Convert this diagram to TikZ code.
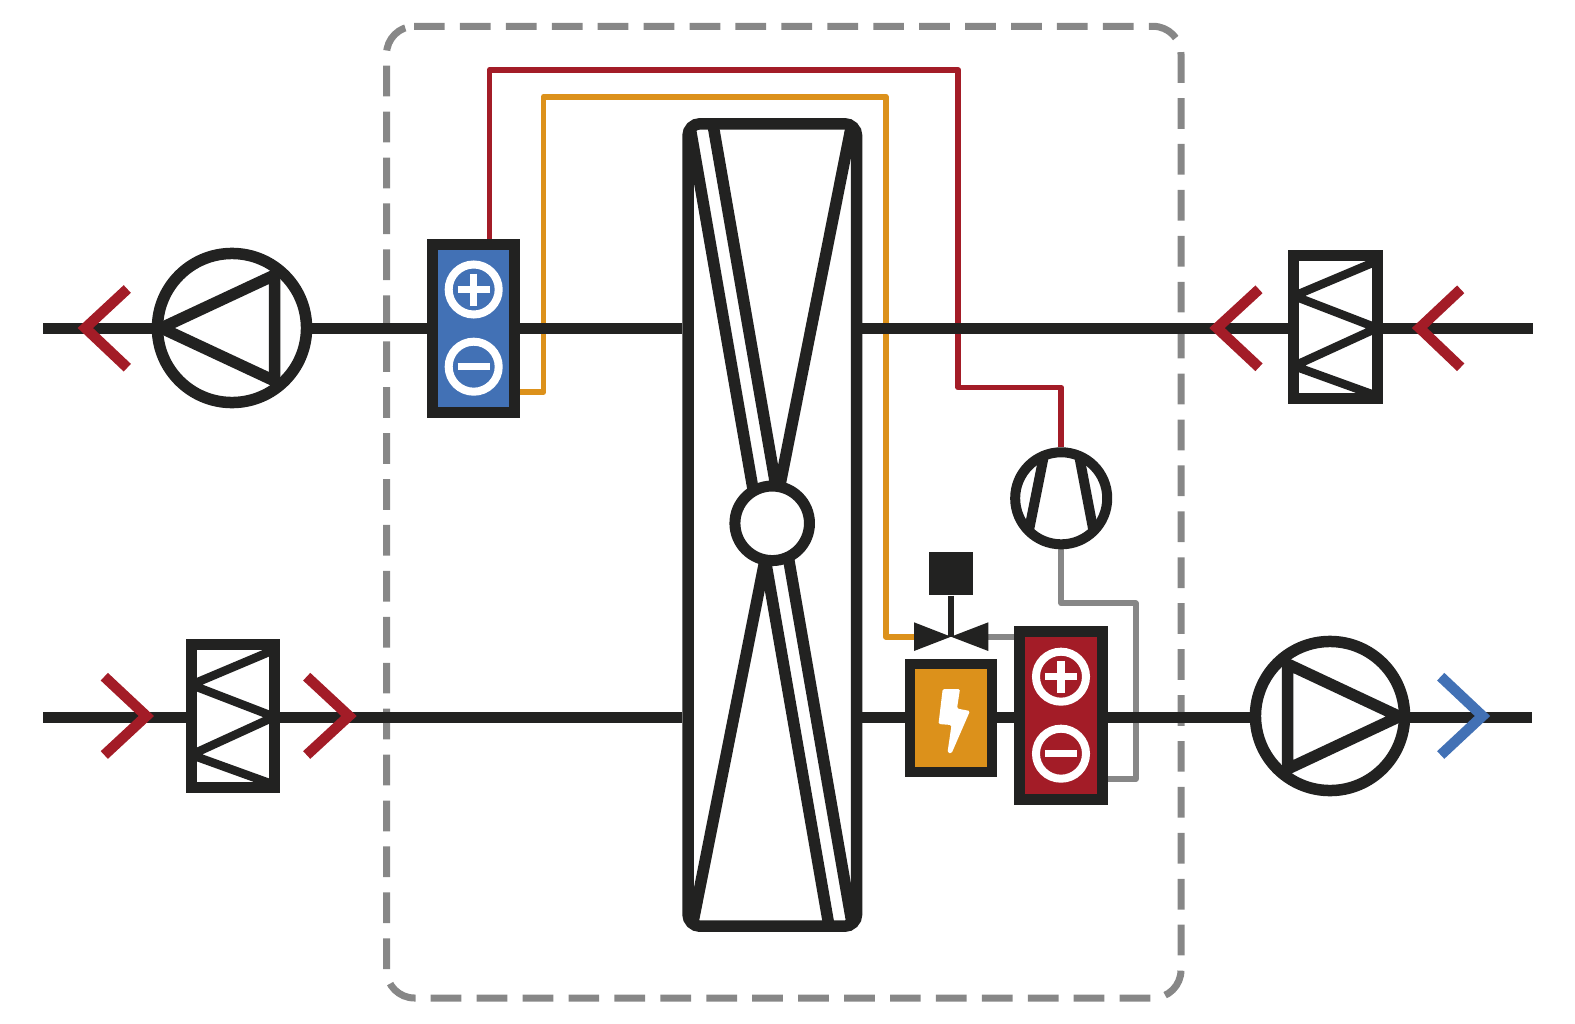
\documentclass[tikz,border=0pt]{standalone}
\usepackage{xcolor}
\usetikzlibrary{backgrounds}
\definecolor{plantBlack}{RGB}{34, 34, 33}
\definecolor{plantGray}{RGB}{135, 135, 135}
\definecolor{plantRed}{RGB}{163, 28, 39}
\definecolor{plantOrange}{RGB}{220, 145, 27}
\definecolor{plantBlue}{RGB}{66, 113, 181}
\tikzset{
  unitbox/.style={draw=plantBlack,line width=0.11cm,inner sep=0pt,minimum width=0.825cm,minimum height=1.68cm},
  damperbox/.style={draw=plantBlack,fill=white,line width=0.11cm,inner sep=0pt,minimum width=0.831cm,minimum height=1.425cm},
  pumpring/.style={draw=plantBlack,fill=white,circle,line width=0.115cm,inner sep=0pt,minimum size=1.49cm},
  signring/.style={draw=white,circle,line width=0.08cm,inner sep=0pt,minimum size=0.5cm},
  signbar/.style={white,line width=0.075cm},
  duct/.style={plantBlack,line width=0.115cm},
  blade/.style={plantBlack,line width=0.115cm},
  zigzag/.style={plantBlack,line width=0.085cm,line join=round},
  chevron/.style={line width=0.105cm,line join=miter},
  wire/.style={line width=0.058cm,line join=round}
}
\begin{document}
\begin{tikzpicture}[x=0.01cm,y=-0.01cm]
  \useasboundingbox (0,0) rectangle (1575,1024);

  % Duct ends
  \coordinate (topl) at (43,328.3);
  \coordinate (topr) at (1532.7,328.3);
  \coordinate (botl) at (43,717.3);
  \coordinate (botr) at (1531.7,717.3);

  % Wheel
  \node[draw=plantBlack,fill=white,line width=0.115cm,rounded corners=0.12cm,inner sep=0pt,minimum width=1.685cm,minimum height=8.02cm] (fan) at (772.3,525) {};
  \begin{scope}
    \clip[rounded corners=0.12cm] (687.5,123.5) rectangle (857,926.5);
    \draw[blade] (689.5,124) -- (829,926);
    \draw[blade] (712.9,124) -- (852.5,926);
    \draw[blade] (851.8,124) -- (692.2,926);
  \end{scope}
  \node[draw=plantBlack,fill=white,circle,line width=0.11cm,inner sep=0pt,minimum size=0.745cm] (hub) at (772.2,523.3) {};

  % Pumps
  \node[pumpring] (pumpl) at (232,328) {};
  \draw[plantBlack,line width=0.115cm,line join=miter] (161.3,328) -- (274.7,275) -- (274.7,381) -- cycle;
  \node[pumpring] (pumpr) at (1330,716) {};
  \draw[plantBlack,line width=0.115cm,line join=miter] (1399.3,716.5) -- (1287.5,664) -- (1287.5,769) -- cycle;

  % Dampers
  \node[damperbox] (damperl) at (232.7,716) {};
  \draw[zigzag] (damperl.center) +(41.5,-66.2) -- +(-41.5,-31.2) -- +(41.5,0.8) -- +(-41.5,38.8) -- +(41.5,68.8);
  \node[damperbox] (damperr) at (1335.5,327.2) {};
  \draw[zigzag] (damperr.center) +(41.5,-66.2) -- +(-41.5,-31.2) -- +(41.5,0.8) -- +(-41.5,38.8) -- +(41.5,68.8);

  % Heat exchangers
  \node[unitbox,fill=plantBlue] (coolbox) at (473.5,328.8) {};
  \node[signring] (coolp) at (473.7,289.5) {};
  \draw[signbar] (coolp.center) +(-16,0) -- +(16,0) +(0,-16) -- +(0,16);
  \node[signring] (coolm) at (473.7,366.7) {};
  \draw[signbar] (coolm.center) +(-16,0) -- +(16,0);
  \node[unitbox,fill=plantRed] (heatbox) at (1061,715.8) {};
  \node[signring] (heatp) at (1061,676.7) {};
  \draw[signbar] (heatp.center) +(-16,0) -- +(16,0) +(0,-16) -- +(0,16);
  \node[signring] (heatm) at (1061,753.7) {};
  \draw[signbar] (heatm.center) +(-16,0) -- +(16,0);

  % Electric heater
  \node[draw=plantBlack,fill=plantOrange,line width=0.1cm,inner sep=0pt,minimum width=0.823cm,minimum height=1.08cm] (elbox) at (951.2,717.7) {};
  \fill[white,rounded corners=0.015cm] (942.7,689) -- (960,689) -- (957,708.5) -- (970,711) -- (951.5,753.5) -- (947.5,752.5) -- (951.5,725) -- (938.5,724) -- cycle;

  % Compressor
  \node[draw=plantBlack,fill=white,circle,line width=0.1cm,inner sep=0pt,minimum size=0.92cm] (comp) at (1061.2,498.3) {};
  \draw[plantBlack,line width=0.1cm] (1044,455) -- (1028.8,531);
  \draw[plantBlack,line width=0.1cm] (1079,455) -- (1093.5,531);

  % Valve
  \node[fill=plantBlack,inner sep=0pt,minimum size=0.434cm] (actuator) at (951,573.3) {};
  \coordinate (valve) at (951,636.7);
  \coordinate (valvel) at (914,636.7);
  \coordinate (valver) at (988.3,636.7);
  \fill[plantBlack] (914,622.3) -- (valve) -- (914,651) -- cycle;
  \fill[plantBlack] (988.3,622.3) -- (valve) -- (988.3,651) -- cycle;
  \draw[plantBlack,line width=0.06cm] (actuator.south) -- (valve);

  % Arrows
  \draw[chevron,plantRed] (127.3,289) -- (85.3,328) -- (127.3,367.7);
  \draw[chevron,plantRed] (1259,289.3) -- (1217,328) -- (1259,367.3);
  \draw[chevron,plantRed] (1460.7,289.3) -- (1419.5,328) -- (1460.7,367.3);
  \draw[chevron,plantRed] (104.3,676.7) -- (146.3,716) -- (104.3,755);
  \draw[chevron,plantRed] (306.7,676.7) -- (349,716) -- (306.7,755);
  \draw[chevron,plantBlue] (1440.7,676.7) -- (1482.5,716) -- (1440.7,755);

  \begin{scope}[on background layer]
    % Casing
    \draw[plantGray,line width=0.07cm,dash pattern=on 0.307cm off 0.152cm,rounded corners=0.28cm] (414,26.3) -- (1181,26.3) -- (1181,998) -- (386.5,998) -- (386.5,26.3) -- (414,26.3);

    % Refrigerant lines
    \coordinate (redtop) at (489.5,70);
    \draw[wire,plantRed] (redtop |- coolbox.north) -- (redtop) -- (958.3,70) -- (958.3,387.5) -- (comp.north |- 0,387.5) -- (comp.north);
    \coordinate (orangeend) at (543.5,392);
    \draw[wire,plantOrange] (orangeend -| coolbox.east) -- (orangeend) -- (543.5,96.7) -- (885.8,96.7) -- (885.8,636.7) -- (valvel);
    \draw[wire,plantGray] (valver) -- (valver -| heatbox.west);
    \coordinate (grayend) at (1135.7,779);
    \draw[wire,plantGray] (comp.south) -- (comp.south |- 0,603.3) -- (1135.7,603.3) -- (grayend) -- (grayend -| heatbox.east);

    % Ducts
    \draw[duct] (topl) -- (topl -| pumpl.west);
    \draw[duct] (topl -| pumpl.east) -- (topl -| coolbox.west);
    \draw[duct] (topl -| coolbox.east) -- (topl -| fan.west);
    \draw[duct] (topl -| fan.east) -- (topl -| damperr.west);
    \draw[duct] (topl -| damperr.east) -- (topr);
    \draw[duct] (botl) -- (botl -| damperl.west);
    \draw[duct] (botl -| damperl.east) -- (botl -| fan.west);
    \draw[duct] (botl -| fan.east) -- (botl -| elbox.west);
    \draw[duct] (botl -| elbox.east) -- (botl -| heatbox.west);
    \draw[duct] (botl -| heatbox.east) -- (botl -| pumpr.west);
    \draw[duct] (botl -| pumpr.east) -- (botr);
  \end{scope}
\end{tikzpicture}
\end{document}
